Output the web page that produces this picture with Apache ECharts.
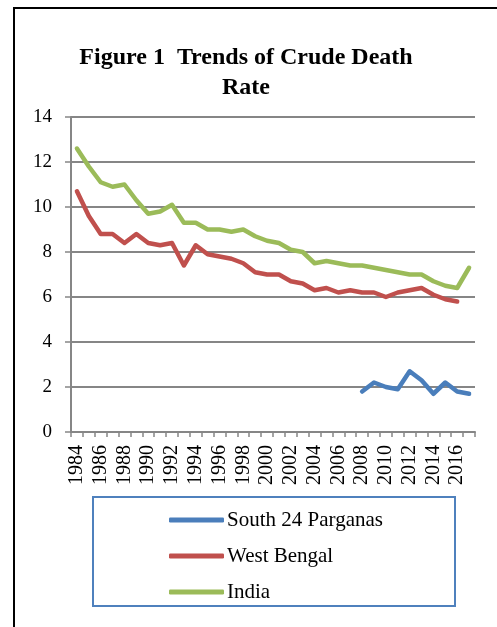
<!DOCTYPE html>
<html>
<head>
<meta charset="utf-8">
<script src="https://cdn.jsdelivr.net/npm/echarts@6/dist/echarts.min.js"></script>
<style>
html,body{margin:0;padding:0;background:#fff;}
#chart{width:497px;height:627px;}
</style>
</head>
<body>
<div id="chart"></div>
<script>
var years = ['1984','1985','1986','1987','1988','1989','1990','1991','1992','1993','1994','1995','1996','1997','1998','1999','2000','2001','2002','2003','2004','2005','2006','2007','2008','2009','2010','2011','2012','2013','2014','2015','2016','2017'];
var south24 = [null,null,null,null,null,null,null,null,null,null,null,null,null,null,null,null,null,null,null,null,null,null,null,null,1.8,2.2,2.0,1.9,2.7,2.3,1.7,2.2,1.8,1.7];
var westBengal = [10.7,9.6,8.8,8.8,8.4,8.8,8.4,8.3,8.4,7.4,8.3,7.9,7.8,7.7,7.5,7.1,7.0,7.0,6.7,6.6,6.3,6.4,6.2,6.3,6.2,6.2,6.0,6.2,6.3,6.4,6.1,5.9,5.8,null];
var india = [12.6,11.8,11.1,10.9,11.0,10.3,9.7,9.8,10.1,9.3,9.3,9.0,9.0,8.9,9.0,8.7,8.5,8.4,8.1,8.0,7.5,7.6,7.5,7.4,7.4,7.3,7.2,7.1,7.0,7.0,6.7,6.5,6.4,7.3];
var seriesNames = ['South 24 Parganas','West Bengal','India'];
var titleText = 'Figure 1  Trends of Crude Death\nRate';

var FONT = '"Liberation Serif","Times New Roman",serif';
var chart = echarts.init(document.getElementById('chart'), null, {renderer:'canvas'});
function mk(name, data, color){
  return {name:name, type:'line', data:data, symbol:'none', smooth:false, connectNulls:false,
    lineStyle:{color:color, width:4.5, cap:'round', join:'round'}, itemStyle:{color:color}};
}
chart.setOption({
  animation:false,
  backgroundColor:'#fff',
  title:{text:titleText, left:241, top:38, textAlign:'center',
    textStyle:{fontFamily:FONT, fontSize:24, fontWeight:'bold', color:'#000', lineHeight:30}},
  grid:{left:71, right:22, top:117, bottom:195, containLabel:false},
  xAxis:{type:'category', data:years, boundaryGap:true,
    axisLine:{lineStyle:{color:'#868686', width:2}},
    axisTick:{show:true, interval:0, length:5, lineStyle:{color:'#868686', width:1.5}},
    axisLabel:{interval:1, rotate:90, margin:13, fontFamily:FONT, fontSize:20, color:'#000'},
    splitLine:{show:false}},
  yAxis:{type:'value', min:0, max:14, interval:2,
    axisLine:{show:true, lineStyle:{color:'#868686', width:2}},
    axisTick:{show:true, length:6, lineStyle:{color:'#868686', width:1.5}},
    axisLabel:{margin:19, fontFamily:FONT, fontSize:19, color:'#000'},
    splitLine:{show:true, lineStyle:{color:'#868686', width:2}}},
  legend:{orient:'vertical', left:164, top:504, itemWidth:55, itemHeight:5, itemGap:14,
    icon:'roundRect', data:seriesNames,
    textStyle:{fontFamily:FONT, fontSize:21, color:'#000', lineHeight:22, padding:[0,0,0,-2]}},
  graphic:[
    {type:'line', shape:{x1:14, y1:8, x2:14, y2:627}, style:{stroke:'#000', lineWidth:2}},
    {type:'line', shape:{x1:13, y1:8, x2:497, y2:8}, style:{stroke:'#000', lineWidth:2}},
    {type:'rect', shape:{x:93, y:497, width:362, height:109}, style:{fill:'none', stroke:'#4F81BD', lineWidth:2}}
  ],
  series:[
    mk(seriesNames[0], south24, '#4A7EBB'),
    mk(seriesNames[1], westBengal, '#C0504D'),
    mk(seriesNames[2], india, '#9BBB59')
  ]
});
</script>
</body>
</html>
